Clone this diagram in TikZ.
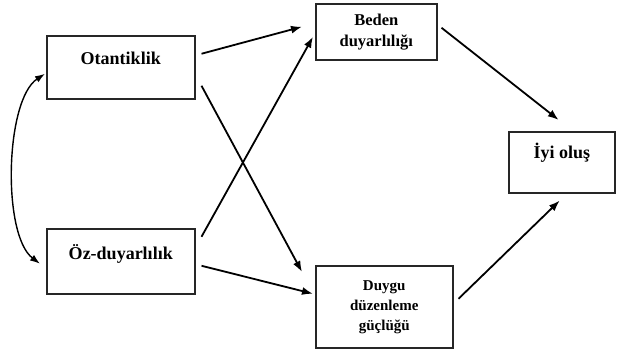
\documentclass[tikz,border=0pt]{standalone}
\usepackage{fontspec}
\setmainfont{Liberation Serif}
\usetikzlibrary{arrows.meta,calc}
\begin{document}
\begin{tikzpicture}[x=1pt,y=-1pt,
  box/.style={draw=black!85,line width=1.5pt,rectangle,inner sep=0pt,anchor=north west,font=\bfseries,align=center},
  conn/.style={line width=1.8pt,-{Latex[length=11pt,width=8pt]}},
  dconn/.style={line width=1.4pt,{Latex[length=10pt,width=7pt]}-{Latex[length=10pt,width=7pt]}}]
\useasboundingbox (0,0) rectangle (617,349);
\node[box,minimum width=148pt,text height=29pt,text depth=34pt,font=\bfseries\fontsize{18}{22}\selectfont] (ot) at (46,35) {Otantiklik};
\node[box,minimum width=148pt,text height=31pt,text depth=34pt,font=\bfseries\fontsize{18}{22}\selectfont] (oz) at (46,228) {Öz-duyarlılık};
\node[box,minimum width=121pt,minimum height=56pt,font=\bfseries\fontsize{16.5}{21}\selectfont] (beden) at (315,3) {Beden\\duyarlılığı};
\node[box,minimum width=137pt,minimum height=82pt,font=\bfseries\fontsize{15}{20}\selectfont] (duygu) at (315,265) {Duygu\\düzenleme\\güçlüğü};
\node[box,minimum width=106pt,text height=27pt,text depth=34pt,font=\bfseries\fontsize{18}{22}\selectfont] (iyi) at (508,131) {İyi oluş};
\draw[conn] ($(ot.east)+(6,-13.5)$) -- ($(beden.west)+(-13,-5)$);
\draw[conn] ($(ot.east)+(6,18.5)$) -- ($(duygu.north west)+(-13,7)$);
\draw[conn] ($(oz.east)+(6,-24.5)$) -- ($(beden.west)+(-2,5)$);
\draw[conn] ($(oz.east)+(6,4.5)$) -- ($(duygu.west)+(-2,-13)$);
\draw[conn] ($(beden.east)+(4,-4)$) -- ($(iyi.north)+(-3,-11)$);
\draw[conn] ($(duygu.east)+(5,-8)$) -- ($(iyi.south)+(-2,7)$);
\draw[dconn] ($(ot.west)+(-1,6.5)$) .. controls (5,100) and (2,235) .. ($(oz.west)+(-6,2.5)$);
\end{tikzpicture}
\end{document}
